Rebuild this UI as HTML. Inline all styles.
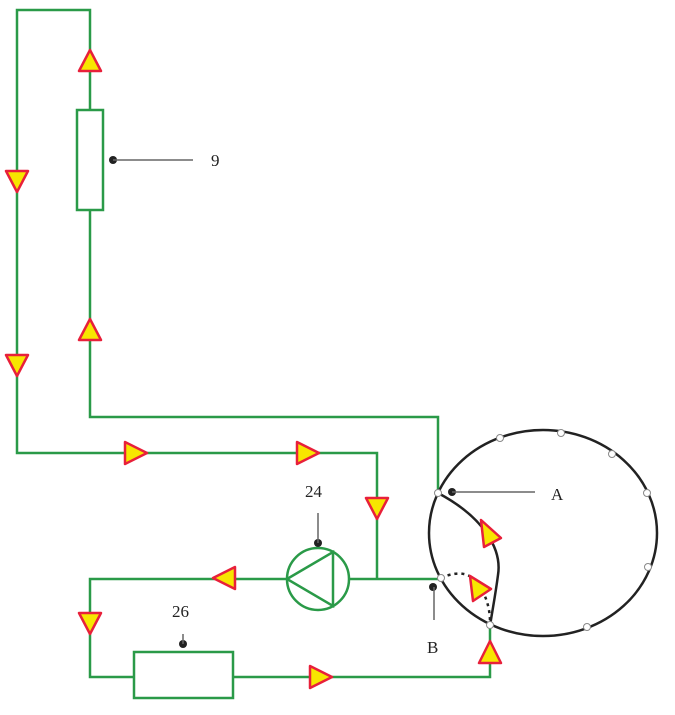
<!DOCTYPE html>
<html><head><style>body{margin:0;background:#fff}svg{display:block}text{font-family:"Liberation Serif",serif;font-size:17px;fill:#222}</style></head><body>
<svg width="675" height="715" viewBox="0 0 675 715">
<g fill="none" stroke="#2a9a48" stroke-width="2.5">
<polyline points="90,110 90,10 17,10 17,453 377,453 377,579"/>
<polyline points="90,210 90,417 438,417 438,493"/>
<line x1="349" y1="579" x2="441" y2="579"/>
<polyline points="287,579 90,579 90,677 134,677"/>
<rect x="134" y="652" width="99" height="46"/>
<polyline points="233,677 490,677 490,626"/>
<rect x="77" y="110" width="26" height="100"/>
<circle cx="318" cy="579" r="31"/>
<path d="M287,579 L333,552 L333,606 Z"/>
</g>
<g fill="none" stroke="#222" stroke-width="2.5">
<ellipse cx="543" cy="533" rx="114" ry="103"/>
<path d="M438,493 C 485,518 502,550 498,575 C 495,598 492,612 490,626"/>
<path d="M441,578 Q 470,565 482,590 Q 490,605 490,622" stroke-dasharray="3,4"/>
</g>
<g fill="#222"><circle cx="113" cy="160" r="4"/><circle cx="452" cy="492" r="4"/><circle cx="433" cy="587" r="4"/><circle cx="318" cy="543" r="4"/><circle cx="183" cy="644" r="4"/></g>
<g stroke="#666" stroke-width="1.5"><line x1="113" y1="160" x2="193" y2="160"/><line x1="452" y1="492" x2="535" y2="492"/><line x1="434" y1="587" x2="434" y2="620"/><line x1="318" y1="543" x2="318" y2="513"/><line x1="183" y1="644" x2="183" y2="634"/></g>
<g fill="#fff" stroke="#888" stroke-width="1"><circle cx="438" cy="493" r="3.5"/><circle cx="441" cy="578" r="3.5"/><circle cx="490" cy="625" r="3.5"/><circle cx="500" cy="438" r="3.5"/><circle cx="561" cy="433" r="3.5"/><circle cx="612" cy="454" r="3.5"/><circle cx="647" cy="493" r="3.5"/><circle cx="648" cy="567" r="3.5"/><circle cx="587" cy="627" r="3.5"/></g>
<g fill="#f7e600" stroke="#e8203a" stroke-width="2.5" stroke-linejoin="round">
<polygon points="90,50 79,71 101,71"/>
<polygon points="90,319 79,340 101,340"/>
<polygon points="17,192 6,171 28,171"/>
<polygon points="17,376 6,355 28,355"/>
<polygon points="147,453 125,442 125,464"/>
<polygon points="319,453 297,442 297,464"/>
<polygon points="377,519 366,498 388,498"/>
<polygon points="213,578 235,567 235,589"/>
<polygon points="90,634 79,613 101,613"/>
<polygon points="332,677 310,666 310,688"/>
<polygon points="490,641 479,663 501,663"/>
<polygon points="481,520 501,538 484,547"/>
<polygon points="470,576 491,589 473,601"/>
</g>
<text x="211" y="166">9</text>
<text x="551" y="500">A</text>
<text x="427" y="653">B</text>
<text x="305" y="497">24</text>
<text x="172" y="617">26</text>
</svg>
</body></html>
